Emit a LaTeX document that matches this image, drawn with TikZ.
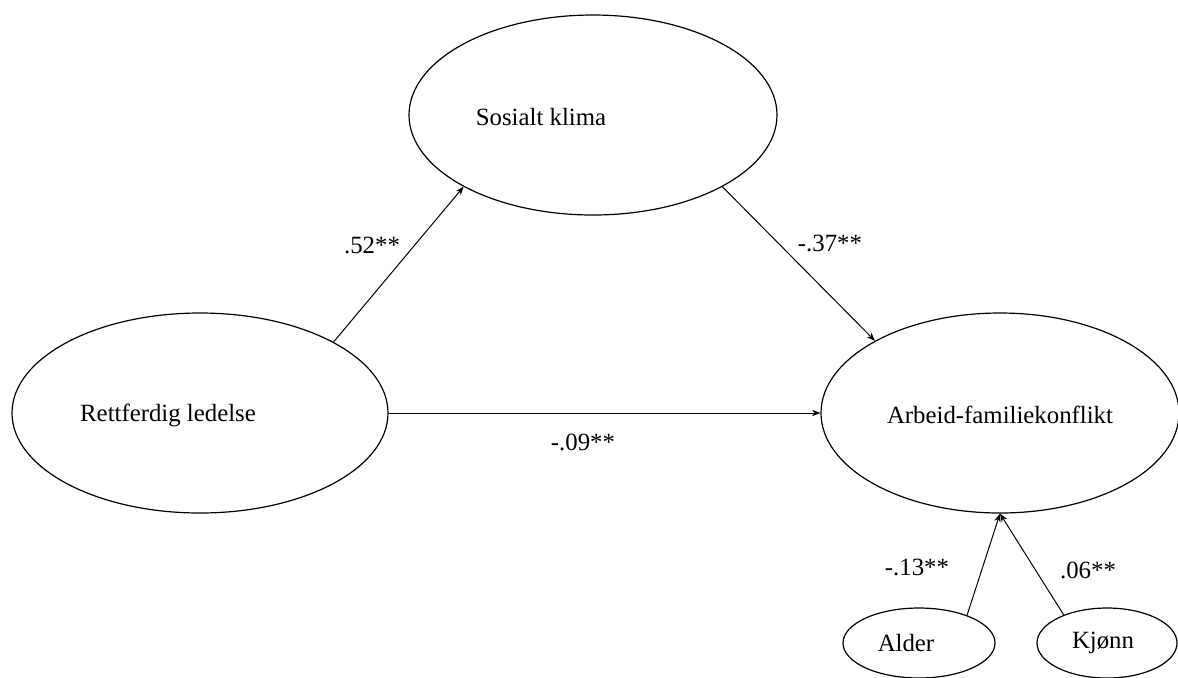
\documentclass[tikz,border=0pt]{standalone}
\usepackage{fontspec}
\setmainfont{Liberation Serif}
\usetikzlibrary{positioning,shapes,arrows.meta}

\begin{document}
\begin{tikzpicture}[x=0.5pt,y=-0.5pt,
    construct/.style={draw,ellipse,inner sep=0pt,line width=0.6pt},
    coef/.style={font=\fontsize{12.4}{14}\selectfont},
    effect/.style={->,line width=0.5pt},
    >={Stealth[length=4.2pt,width=3.2pt]}]
    \fill[white] (0,0) rectangle (1178,677);
    \useasboundingbox (0,0) rectangle (1178,677);

    % Constructs
    \node[construct,minimum width=184pt,minimum height=100pt,
          label={[coef,xshift=-26pt,yshift=-1pt]center:Sosialt klima}] (sos) at (593,115) {};
    \node[construct,minimum width=188pt,minimum height=100pt,
          label={[coef,xshift=-16pt,yshift=-1pt]center:Rettferdig ledelse}] (ret) at (200,413) {};
    \node[construct,minimum width=179pt,minimum height=100pt,
          label={[coef,yshift=-1pt]center:Arbeid-familiekonflikt}] (arb) at (1000,413) {};

    % Controls
    \node[construct,minimum width=76pt,minimum height=35pt,
          label={[coef,xshift=-6.5pt]center:Alder}] (alder) at (919,643) {};
    \node[construct,minimum width=70pt,minimum height=35pt,
          label={[coef,xshift=-2pt]center:Kjønn}] (kjonn) at (1107,643) {};

    % Paths
    \draw[effect] (ret.28) -- (sos.209);
    \draw[effect] (sos.331) -- (arb.150);
    \draw[effect] (ret.east) -- (arb.west);
    \draw[effect] (alder.30) -- (arb.south);
    \draw[effect] (kjonn.147) -- (arb.south);

    % Coefficients
    \node[coef] (bRetSos) at (372,245) {.52**};
    \node[coef] (bSosArb) at (830,243) {-.37**};
    \node[coef] (bRetArb) at (583,442) {-.09**};
    \node[coef] (bAlder) at (917,567) {-.13**};
    \node[coef] (bKjonn) at (1088,570) {.06**};
\end{tikzpicture}
\end{document}
